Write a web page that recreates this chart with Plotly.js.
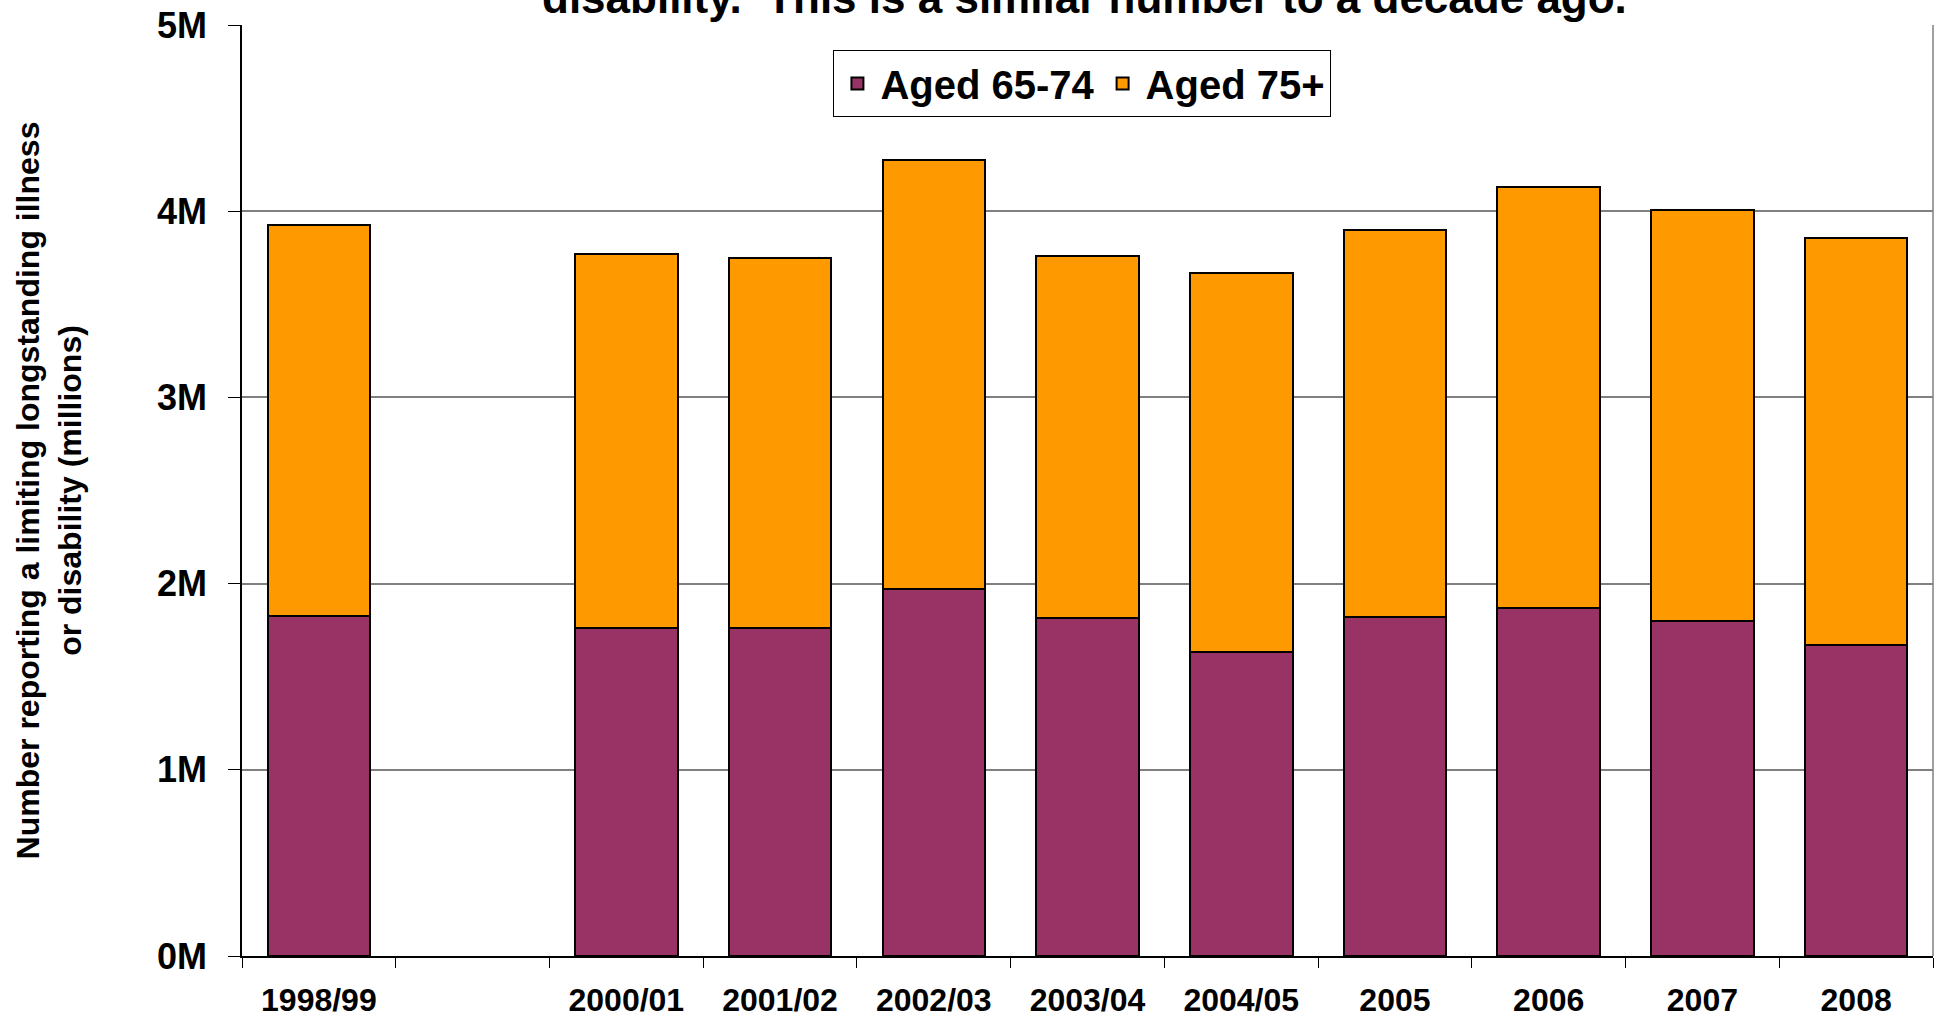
<!DOCTYPE html>
<html>
<head>
<meta charset="utf-8">
<script src="https://cdn.plot.ly/plotly-3.0.1.min.js"></script>
<style>
  html, body { margin: 0; padding: 0; background: #ffffff; }
  #chart { width: 1935px; height: 1020px; }
</style>
</head>
<body>
<div id="chart"></div>
<script>
// Survey years (1999/00 has no survey, so it is kept as an empty slot)
const years = ["1998/99", "1999/00", "2000/01", "2001/02", "2002/03", "2003/04",
               "2004/05", "2005", "2006", "2007", "2008"];
const yearLabels = ["1998/99", "", "2000/01", "2001/02", "2002/03", "2003/04",
                    "2004/05", "2005", "2006", "2007", "2008"];

// People reporting a limiting longstanding illness or disability (millions)
const aged65to74 = [1.827, null, 1.762, 1.759, 1.970, 1.816, 1.630, 1.818, 1.867, 1.798, 1.668];
const aged75plus = [2.097, null, 2.008, 1.989, 2.305, 1.946, 2.036, 2.083, 2.265, 2.208, 2.190];

const seriesNames = ["Aged 65-74", "Aged 75+"];
const titleText = "disability.  This is a similar number to a decade ago.";
const yTitleText = "Number reporting a limiting longstanding illness<br>or disability (millions)";

const SANS = '"Liberation Sans", Arial, Helvetica, sans-serif';

const traces = [
  {
    type: "bar", name: seriesNames[0], x: years, y: aged65to74,
    marker: { color: "#993366", line: { color: "#000000", width: 2 } },
    hoverinfo: "x+y+name"
  },
  {
    type: "bar", name: seriesNames[1], x: years, y: aged75plus,
    marker: { color: "#FF9900", line: { color: "#000000", width: 2 } },
    hoverinfo: "x+y+name"
  }
];

const layout = {
  width: 1935, height: 1020,
  margin: { l: 242, r: 2, t: 25, b: 64, pad: 0 },
  paper_bgcolor: "#ffffff", plot_bgcolor: "#ffffff",
  barmode: "stack", bargap: 0.333,
  showlegend: true,
  legend: {
    orientation: "h", traceorder: "normal", itemwidth: 36,
    x: 0.497, xanchor: "center", y: 0.9731, yanchor: "top",
    bgcolor: "#ffffff", bordercolor: "#000000", borderwidth: 1,
    font: { family: SANS, size: 40, color: "#000000", weight: "bold" }
  },
  xaxis: {
    type: "category", tickmode: "array", tickvals: years, ticktext: yearLabels,
    tickson: "boundaries", ticks: "outside", ticklen: 10, tickwidth: 1, tickcolor: "#000000",
    ticklabelstandoff: 15,
    showgrid: false, zeroline: false,
    showline: true, linecolor: "#000000", linewidth: 1.5,
    tickfont: { family: SANS, size: 32, color: "#000000", weight: "bold" }
  },
  yaxis: {
    range: [0, 5], dtick: 1, ticksuffix: "M",
    ticks: "outside", ticklen: 12, tickwidth: 1, tickcolor: "#000000",
    ticklabelstandoff: 14,
    showgrid: true, gridcolor: "#808080", gridwidth: 1.5,
    zeroline: false, showline: true, linecolor: "#000000", linewidth: 1.5,
    tickfont: { family: SANS, size: 36, color: "#000000", weight: "bold" },
    title: {
      text: yTitleText, standoff: 66,
      font: { family: SANS, size: 32, color: "#000000", weight: "bold" }
    }
  },
  annotations: [
    {
      text: titleText, xref: "paper", yref: "paper",
      x: 0.498, xanchor: "center", y: 1.030, yanchor: "middle",
      showarrow: false,
      font: { family: SANS, size: 44, color: "#000000", weight: "bold" }
    }
  ],
  shapes: [
    {
      type: "line", xref: "paper", yref: "paper", x0: 1, x1: 1, y0: 0, y1: 1,
      line: { color: "#808080", width: 1.5 }
    }
  ]
};

Plotly.newPlot("chart", traces, layout, { displayModeBar: false, responsive: false });
</script>
</body>
</html>
